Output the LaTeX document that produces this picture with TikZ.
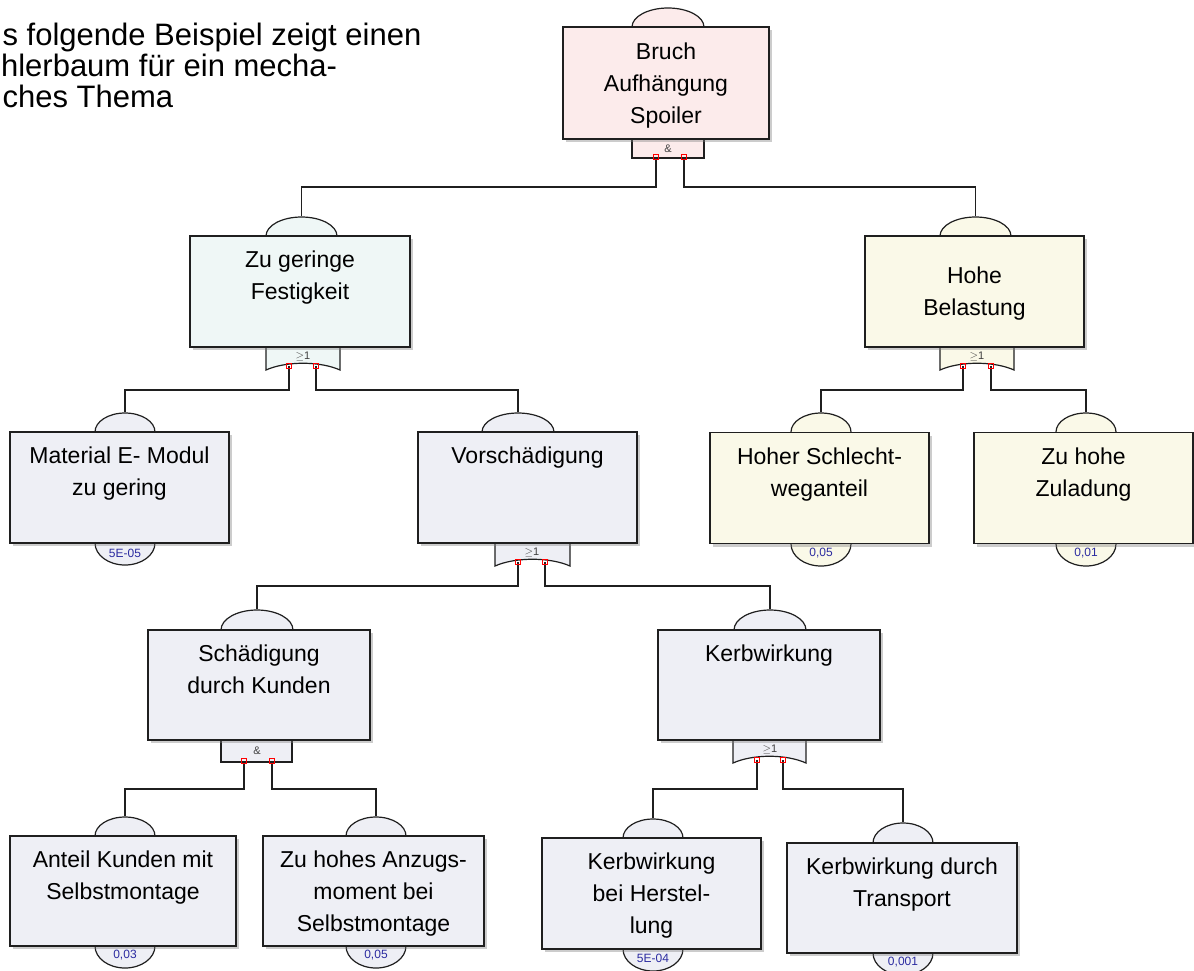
\documentclass[tikz,border=0pt]{standalone}
\usepackage{fontspec}
\setmainfont{Liberation Sans}
\usetikzlibrary{shapes, positioning, shadows}

\definecolor{evpink}{HTML}{FCEBEB}
\definecolor{evcyan}{HTML}{EFF7F6}
\definecolor{evyellow}{HTML}{FAF9E8}
\definecolor{evblue}{HTML}{EEEFF5}
\definecolor{probblue}{HTML}{2B2BA0}

\begin{document}
\begin{tikzpicture}[
      x=1pt, y=-1pt,
      line width=1.2pt,
      event/.style={draw=black!88, rectangle, align=center, inner sep=0pt,
        minimum width=219pt, minimum height=111pt, text depth=0pt,
        font=\fontsize{23}{32}\selectfont,
        drop shadow={shadow xshift=3pt, shadow yshift=-3pt, opacity=.4}},
      dome/.style={draw=black!88, ellipse, inner sep=0pt, minimum width=72pt, minimum height=38pt},
      basic dome/.style={dome, minimum width=60pt, minimum height=44pt},
      port/.style={draw=red, rectangle, inner sep=0pt, minimum size=5pt, line width=.7pt},
      prob/.style={text=probblue, inner sep=0pt, font=\fontsize{12}{12}\selectfont},
      gatelabel/.style={text=black!75, inner sep=0pt, font=\fontsize{11}{11}\selectfont},
      intro/.style={anchor=base west, inner sep=0pt, font=\fontsize{31}{31}\selectfont}
    ]
    \useasboundingbox (0,0) rectangle (1194,970);
    \clip (0,0) rectangle (1194,970);

    \node[intro] (intro-a) at (2,45) {s folgende Beispiel zeigt einen};
    \node[intro] (intro-b) at (0.5,76) {hlerbaum für ein mecha-};
    \node[intro] (intro-c) at (2,107) {ches Thema};

    \node[dome, fill=evpink] (top-c) at (668,27) {};
    \node[dome, fill=evcyan, minimum width=71pt] (zgf-c) at (301.5,236) {};
    \node[dome, fill=evyellow, minimum width=71pt] (hb-c) at (975.5,236) {};
    \node[basic dome, fill=evblue, minimum height=38pt] (mat-c) at (125,432) {};
    \node[dome, fill=evblue] (vor-c) at (518,432) {};
    \node[basic dome, fill=evyellow, minimum height=38pt] (hsw-c) at (821,432) {};
    \node[basic dome, fill=evyellow, minimum height=38pt] (zhz-c) at (1086,432) {};
    \node[dome, fill=evblue, minimum height=40pt] (sdk-c) at (257,630) {};
    \node[dome, fill=evblue, minimum height=40pt] (kerb-c) at (770,630) {};
    \node[basic dome, fill=evblue, minimum height=38pt] (akm-c) at (125,836) {};
    \node[basic dome, fill=evblue, minimum height=38pt] (zha-c) at (376,836) {};
    \node[basic dome, fill=evblue, minimum height=38pt] (kbh-c) at (653,838) {};
    \node[basic dome, fill=evblue, minimum height=40pt] (kdt-c) at (903,843) {};

    \node[basic dome, fill=evblue] (mat-p) at (125,543) {};
    \node[basic dome, fill=evyellow] (hsw-p) at (821,544) {};
    \node[basic dome, fill=evyellow] (zhz-p) at (1086,544) {};
    \node[basic dome, fill=evblue] (akm-p) at (125,946) {};
    \node[basic dome, fill=evblue] (zha-p) at (376,946) {};
    \node[basic dome, fill=evblue] (kbh-p) at (653,949) {};
    \node[basic dome, fill=evblue] (kdt-p) at (903,953) {};

    \draw[draw=black!88, fill=evpink] (632,130) rectangle (704,158);
    \draw[draw=black!88, fill=evblue] (221,730) rectangle (292,762);
    \foreach \a/\b/\t/\col in {266/340/347/evcyan, 940/1014/347/evyellow,
        495/570/543/evblue, 733/806/740/evblue}
      \draw[draw=black!88, fill=\col] (\a,\t-10) -- (\a,\t+23)
        .. controls (\a+20,\t+14) and (\b-20,\t+14) .. (\b,\t+23) -- (\b,\t-10);

    \node[event, fill=evpink, minimum width=206pt, minimum height=112pt] (top) at (666,83)
      {Bruch\\Aufhängung\\Spoiler};
    \node[event, fill=evcyan, minimum width=220pt] (zgf) at (300,291.5)
      {Zu geringe\\Festigkeit\\\strut};
    \node[event, fill=evyellow] (hb) at (974.5,291.5) {Hohe\\Belastung};
    \node[event, fill=evblue] (mat) at (119.5,487.5) {Material E- Modul\\zu gering\\\strut};
    \node[event, fill=evblue] (vor) at (527.5,487.5) {Vorschädigung\\\strut\\\strut};
    \node[event, fill=evyellow] (hsw) at (819.5,488) {Hoher Schlecht-\\weganteil\\\strut};
    \node[event, fill=evyellow] (zhz) at (1083.5,488) {Zu hohe\\Zuladung\\\strut};
    \node[event, fill=evblue, minimum width=222pt, minimum height=110pt] (sdk) at (259,685)
      {Schädigung\\durch Kunden\\\strut};
    \node[event, fill=evblue, minimum width=222pt, minimum height=110pt] (kerb) at (769,685)
      {Kerbwirkung\\\strut\\\strut};
    \node[event, fill=evblue, minimum width=226pt, minimum height=110pt] (akm) at (123,891)
      {Anteil Kunden mit\\Selbstmontage\\\strut};
    \node[event, fill=evblue, minimum width=221pt, minimum height=110pt] (zha) at (373.5,891)
      {Zu hohes Anzugs-\\moment bei\\Selbstmontage};
    \node[event, fill=evblue] (kbh) at (651.5,893.5) {Kerbwirkung\\bei Herstel-\\lung};
    \node[event, fill=evblue, minimum width=230pt, minimum height=110pt] (kdt) at (902,898)
      {Kerbwirkung durch\\Transport\\\strut};

    \node[gatelabel] (top-g) at (668,149) {\&};
    \node[gatelabel] (zgf-g) at (303,356) {$\geq$1};
    \node[gatelabel] (hb-g) at (977,356) {$\geq$1};
    \node[gatelabel] (vor-g) at (532,552) {$\geq$1};
    \node[gatelabel] (sdk-g) at (257,751) {\&};
    \node[gatelabel] (kerb-g) at (770,749) {$\geq$1};

    \node[prob] (mat-v) at (125,553) {5E-05};
    \node[prob] (hsw-v) at (821,553) {0,05};
    \node[prob] (zhz-v) at (1086,553) {0,01};
    \node[prob] (akm-v) at (125,955) {0,03};
    \node[prob] (zha-v) at (376,955) {0,05};
    \node[prob] (kbh-v) at (653,958) {5E-04};
    \node[prob] (kdt-v) at (903,962) {0,001};

    \draw[black!88] (656,157) -- ++(0,30) -| (zgf-c);
    \draw[black!88] (684,157) -- ++(0,30) -| (hb-c);
    \draw[black!88] (289,366) -- ++(0,24) -| (mat-c);
    \draw[black!88] (316,366) -- ++(0,24) -| (vor-c);
    \draw[black!88] (963,366) -- ++(0,24) -| (hsw-c);
    \draw[black!88] (991,366) -- ++(0,24) -| (zhz-c);
    \draw[black!88] (518,562) -- ++(0,24) -| (sdk-c);
    \draw[black!88] (545,562) -- ++(0,24) -| (kerb-c);
    \draw[black!88] (244,761) -- ++(0,28) -| (akm-c);
    \draw[black!88] (272,761) -- ++(0,28) -| (zha-c);
    \draw[black!88] (757,760) -- ++(0,29) -| (kbh-c);
    \draw[black!88] (783,760) -- ++(0,29) -| (kdt-c);

    \node[port] (top-a) at (656,157) {};
    \node[port] (top-b) at (684,157) {};
    \node[port] (zgf-a) at (289,366) {};
    \node[port] (zgf-b) at (316,366) {};
    \node[port] (hb-a) at (963,366) {};
    \node[port] (hb-b) at (991,366) {};
    \node[port] (vor-a) at (518,562) {};
    \node[port] (vor-b) at (545,562) {};
    \node[port] (sdk-a) at (244,761) {};
    \node[port] (sdk-b) at (272,761) {};
    \node[port] (kerb-a) at (757,760) {};
    \node[port] (kerb-b) at (783,760) {};
\end{tikzpicture}
\end{document}
